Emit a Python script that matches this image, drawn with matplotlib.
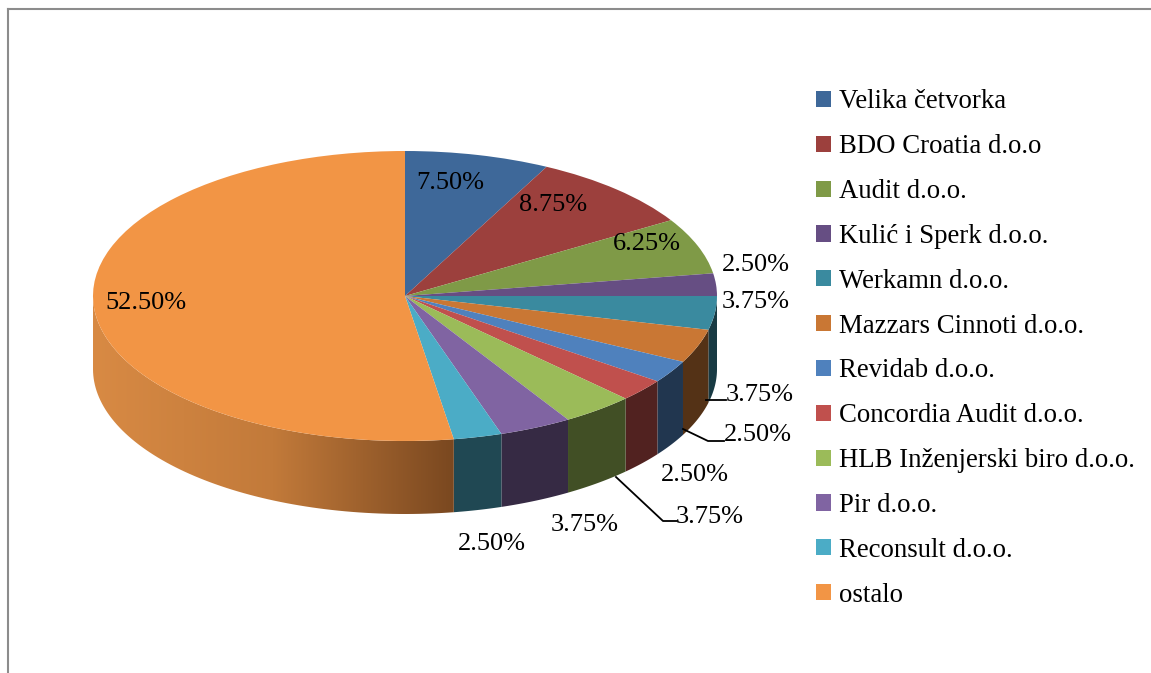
import numpy as np
import matplotlib
matplotlib.use("Agg")
import matplotlib.pyplot as plt
from matplotlib.patches import Polygon, Patch
from matplotlib.lines import Line2D
from matplotlib.colors import LinearSegmentedColormap, to_rgb

# --- data ---
names = ["Velika četvorka", "BDO Croatia d.o.o", "Audit d.o.o.", "Kulić i Sperk d.o.o.",
         "Werkamn d.o.o.", "Mazzars Cinnoti d.o.o.", "Revidab d.o.o.", "Concordia Audit d.o.o.",
         "HLB Inženjerski biro d.o.o.", "Pir d.o.o.", "Reconsult d.o.o.", "ostalo"]
shares = [7.50, 8.75, 6.25, 2.50, 3.75, 3.75, 2.50, 2.50, 3.75, 3.75, 2.50, 52.50]
colors = ["#3E6899", "#9C403D", "#7F9A47", "#664E83", "#3A8A9F", "#C97734",
          "#4F81BD", "#C0504D", "#9BBB59", "#8064A2", "#4BACC6", "#F29545"]

# --- layout (pixels of the 1151x673 image) ---
W, H = 1151, 673
CX, CY, RX, RY = 405, 296, 312, 145
DEPTH = 73 / RY
FONT = "Liberation Serif"
FS = 19
LEG_FS = 19.3

# label centres in pixels, and leader lines (pixel polylines)
label_pos = [(450, 183), (553, 205), (647, 244), (756, 265), (756, 302), (760, 395),
             (758, 435), (695, 475), (710, 517), (585, 525), (492, 544), (146, 303)]
leaders = {5: [(706, 400), (726, 400)],
           6: [(683, 429), (708, 441), (724, 441)],
           8: [(616, 477), (663, 521), (677, 521)]}


def to_data(x, y):
    return (x - CX) / RX, (CY - y) / RY


fig = plt.figure(figsize=(W / 100, H / 100), dpi=100)
ax = fig.add_axes([0, 0, 1, 1])

wedges, _ = ax.pie(shares, colors=colors, startangle=90, counterclock=False,
                   wedgeprops=dict(linewidth=0, zorder=3))
ax.set_aspect("auto")
ax.set_position([0, 0, 1, 1])

# side walls of the front half
ends = 90 - np.cumsum(shares) * 3.6
starts = ends + np.array(shares) * 3.6
side_cmap = LinearSegmentedColormap.from_list("side", ["#D88A44", "#C27A3A", "#7A4820"])
for i in range(len(shares)):
    lo = ends[i] % 360
    hi = lo + (starts[i] - ends[i])
    seg_lo, seg_hi = max(lo, 180), min(hi, 360)
    if seg_hi <= seg_lo:
        continue
    t = np.radians(np.linspace(seg_lo, seg_hi, 80))
    top = np.column_stack([np.cos(t), np.sin(t)])
    bot = np.column_stack([np.cos(t[::-1]), np.sin(t[::-1]) - DEPTH])
    poly = Polygon(np.vstack([top, bot]), closed=True, lw=0, zorder=2)
    if names[i] == "ostalo":
        poly.set_facecolor("none")
        ax.add_patch(poly)
        x0, x1 = np.cos(t).min(), np.cos(t).max()
        grad = np.linspace(0, 1, 256).reshape(1, -1)
        im = ax.imshow(grad, cmap=side_cmap, aspect="auto", zorder=2,
                       extent=(x0, x1, -1 - DEPTH, 0.2), interpolation="bilinear")
        im.set_clip_path(poly)
    else:
        poly.set_facecolor(np.array(to_rgb(colors[i])) * 0.42)
        ax.add_patch(poly)

ax.set_xlim(-CX / RX, (W - CX) / RX)
ax.set_ylim((CY - H) / RY, CY / RY)
ax.set_axis_off()

# percentage labels
for i, (px, py) in enumerate(label_pos):
    x, y = to_data(px, py)
    ax.text(x, y, f"{shares[i]:.2f}%", ha="center", va="center",
            fontsize=FS, family=FONT, color="black", zorder=5)
for i, pts in leaders.items():
    xy = np.array([to_data(*p) for p in pts])
    ax.plot(xy[:, 0], xy[:, 1], color="black", lw=1.3, zorder=5)

# legend
handles = [Patch(facecolor=c, edgecolor="none") for c in colors]
fig.legend(handles, names, loc="upper left", bbox_to_anchor=(803 / W, 1 - 76 / H),
           frameon=False, prop=dict(family=FONT, size=LEG_FS),
           handlelength=0.55, handleheight=0.55, handletextpad=0.28,
           labelspacing=0.74, borderpad=0)

# outer border (top and left edges only visible)
fig.add_artist(Line2D([8 / W, 1], [1 - 9 / H, 1 - 9 / H], color="#8C8C8C", lw=1.5))
fig.add_artist(Line2D([8 / W, 8 / W], [0, 1 - 9 / H], color="#8C8C8C", lw=1.5))

fig.savefig("out.png", dpi=100)
